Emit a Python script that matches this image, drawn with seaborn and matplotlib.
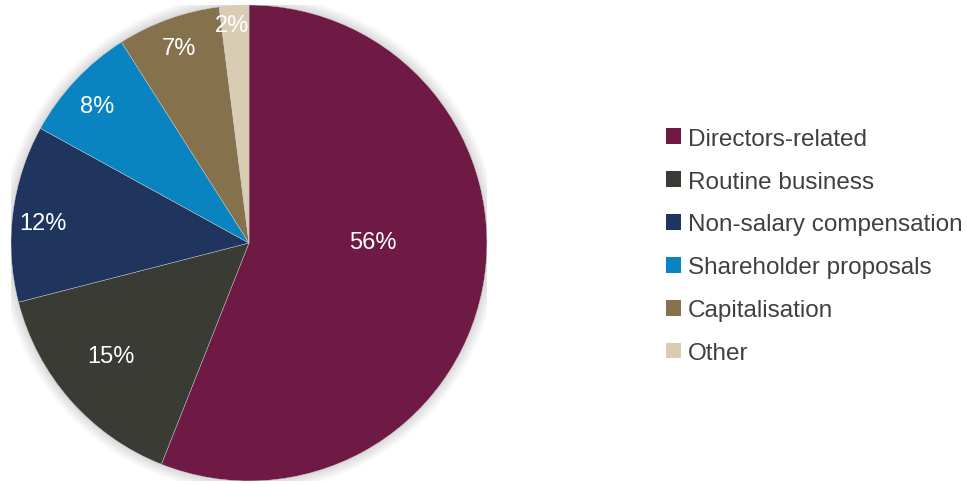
import numpy as np
import matplotlib
matplotlib.use("Agg")
import matplotlib.pyplot as plt
from matplotlib.patches import Patch, Circle
import seaborn as sns

# Share of resolutions by category
categories = ["Directors-related", "Routine business", "Non-salary compensation",
              "Shareholder proposals", "Capitalisation", "Other"]
shares = [56, 15, 12, 8, 7, 2]
pct_labels = ["56%", "15%", "12%", "8%", "7%", "2%"]
colors = ["#6e1a45", "#3a3b35", "#1f355e", "#0a84c0", "#85724d", "#d8ccb3"]

# label placement: (distance from centre as fraction of radius, angle in degrees)
label_radius = [0.52, 0.75, 0.87, 0.86, 0.87, 0.92]
label_angle = [0.5, -140.9, 174.5, 137.8, 109.7, 94.5]

sns.set_style("white")
plt.rcParams["font.family"] = ["Liberation Sans", "DejaVu Sans"]

fig = plt.figure(figsize=(9.67, 4.85), dpi=100)
ax = fig.add_axes([0.01138, 0.00619, 0.4922, 0.9814])

# soft drop shadow around the pie
for i in range(12):
    r = 1.0 + 0.004 * (i + 1)
    ax.add_patch(Circle((0, 0), r, color="black", alpha=0.012, lw=0, zorder=0))

wedges, _ = ax.pie(shares, colors=colors, startangle=90, counterclock=False,
                   radius=1.0, wedgeprops=dict(linewidth=0.3, edgecolor="#d0d0d0"))
for w in wedges:
    w.set_zorder(2)

for txt, r, a in zip(pct_labels, label_radius, label_angle):
    th = np.deg2rad(a)
    ax.text(r * np.cos(th), r * np.sin(th), txt, ha="center", va="center",
            color="white", fontsize=17, zorder=3)

ax.set_xlim(-1.0, 1.0)
ax.set_ylim(-1.0, 1.0)
ax.set_aspect("equal")
ax.axis("off")

handles = [Patch(facecolor=c, edgecolor="none") for c in colors]
fig.legend(handles, categories, loc="center left", bbox_to_anchor=(0.689, 0.491),
           frameon=False, fontsize=17.5, handlelength=0.62, handleheight=0.62,
           handletextpad=0.28, labelspacing=0.86, labelcolor="#404040",
           borderpad=0, borderaxespad=0)

fig.savefig("out.png", dpi=100, facecolor="white")
